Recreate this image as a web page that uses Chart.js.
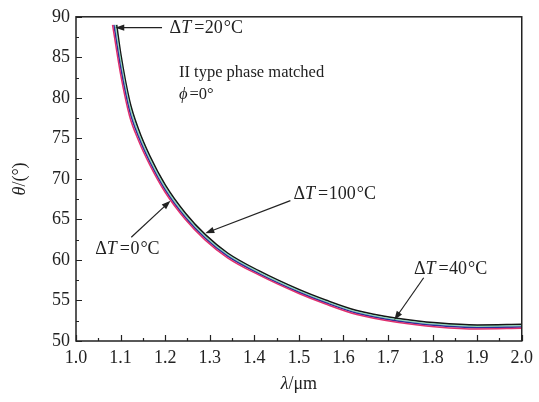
<!DOCTYPE html>
<html>
<head>
    <meta charset="utf-8">
    <script src="https://cdn.jsdelivr.net/npm/chart.js@4.4.0/dist/chart.umd.min.js"></script>
    <style>
        html, body { margin: 0; padding: 0; background: #fff; }
        #wrap { width: 539px; height: 402px; }
    </style>
</head>
<body>
    <div id="wrap"><canvas id="phaseChart"></canvas></div>

    <script>
        // wavelength grid (um) shared by the four curves
        const lambda = [1.10, 1.12, 1.14, 1.165, 1.20, 1.245, 1.29, 1.34, 1.41, 1.50, 1.56, 1.63, 1.72, 1.81, 1.90, 2.00];

        // phase matching angle theta (deg) for each temperature
        const theta0 = [82.93, 77.80, 74.77, 71.79, 68.35, 65.03, 62.45, 60.27, 58.15, 55.86, 54.56, 53.26, 52.31, 51.74, 51.48, 51.56];
        const theta20 = [83.78, 78.42, 75.22, 72.15, 68.65, 65.28, 62.67, 60.46, 58.32, 56.02, 54.72, 53.42, 52.47, 51.90, 51.64, 51.72];
        const theta40 = [84.63, 79.04, 75.67, 72.51, 68.95, 65.53, 62.89, 60.65, 58.49, 56.18, 54.88, 53.58, 52.63, 52.06, 51.80, 51.88];
        const theta100 = [85.48, 79.66, 76.12, 72.87, 69.25, 65.78, 63.11, 60.84, 58.66, 56.34, 55.04, 53.74, 52.79, 52.22, 51.96, 52.04];

        // where each curve starts at the top (lambda at theta = 89 deg)
        const startLambda = [1.082, 1.085, 1.088, 1.091];
        const startTheta = 89.0;

        const seriesNames = ['ΔT=0℃', 'ΔT=20℃', 'ΔT=40℃', 'ΔT=100℃'];
        const seriesTheta = [theta0, theta20, theta40, theta100];
        const seriesColors = ['#e0306e', '#2b2f9c', '#8fd8bc', '#151515'];

        const xTicks = [1.0, 1.1, 1.2, 1.3, 1.4, 1.5, 1.6, 1.7, 1.8, 1.9, 2.0];
        const yTicks = [50, 55, 60, 65, 70, 75, 80, 85, 90];

        // annotations: text parts [text, style, extra gap after], anchor, arrow tail, arrow tip (data units)
        const dT = (v) => [['Δ', '', 0], ['T', 'italic ', 3], ['=', '', 0.5], [v, '', 1], ['°', '', 0], ['C', '', 0]];
        const notes = [
            { parts: dT('20'), size: 18, at: [1.210, 88.55], tail: [1.193, 88.66], tip: [1.088, 88.66] },
            { parts: [['II type phase matched', '', 0]], size: 16.5, at: [1.231, 83.05] },
            { parts: [['ϕ', 'italic ', 2], ['=0°', '', 0]], size: 16.5, at: [1.231, 80.45] },
            { parts: dT('100'), size: 18, at: [1.488, 68.05], tail: [1.481, 67.32], tip: [1.290, 63.30] },
            { parts: dT('0'), size: 18, at: [1.043, 61.34], tail: [1.124, 62.80], tip: [1.212, 67.30] },
            { parts: dT('40'), size: 18, at: [1.758, 58.90], tail: [1.780, 57.80], tip: [1.714, 52.60] }
        ];

        const FONT = '"Liberation Serif", "Times New Roman", serif';

        const datasets = seriesTheta.map((th, i) => ({
            label: seriesNames[i],
            data: [{ x: startLambda[i], y: startTheta }].concat(lambda.map((l, k) => ({ x: l, y: th[k] }))),
            borderColor: seriesColors[i],
            borderWidth: i === 3 ? 1.8 : 1.5,
            pointRadius: 0,
            fill: false,
            cubicInterpolationMode: 'monotone'
        }));

        function drawParts(ctx, parts, x, y, size) {
            let cx = x;
            parts.forEach(p => {
                ctx.font = p[1] + size + 'px ' + FONT;
                ctx.fillText(p[0], cx, y);
                cx += ctx.measureText(p[0]).width + (p[2] || 0);
            });
        }

        function arrow(ctx, x1, y1, x2, y2) {
            const a = Math.atan2(y2 - y1, x2 - x1);
            const len = 9, w = 3.2;
            ctx.beginPath();
            ctx.moveTo(x1, y1);
            ctx.lineTo(x2 - Math.cos(a) * len * 0.7, y2 - Math.sin(a) * len * 0.7);
            ctx.stroke();
            ctx.beginPath();
            ctx.moveTo(x2, y2);
            ctx.lineTo(x2 - Math.cos(a) * len - Math.sin(a) * w, y2 - Math.sin(a) * len + Math.cos(a) * w);
            ctx.lineTo(x2 - Math.cos(a) * len + Math.sin(a) * w, y2 - Math.sin(a) * len - Math.cos(a) * w);
            ctx.closePath();
            ctx.fill();
        }

        const framePlugin = {
            id: 'frame',
            afterDraw(chart) {
                const ctx = chart.ctx;
                const area = chart.chartArea;
                const xs = chart.scales.x, ys = chart.scales.y;
                ctx.save();
                ctx.strokeStyle = '#222';
                ctx.fillStyle = '#222';

                // frame
                ctx.lineWidth = 1.5;
                ctx.strokeRect(area.left, area.top, area.right - area.left, area.bottom - area.top);

                // inward ticks, major + minor
                ctx.lineWidth = 1.2;
                ctx.beginPath();
                for (let v = 1.0; v <= 2.0001; v += 0.05) {
                    const px = Math.round(xs.getPixelForValue(v)) + 0.5;
                    const major = Math.abs(v * 10 - Math.round(v * 10)) < 0.01;
                    ctx.moveTo(px, area.bottom);
                    ctx.lineTo(px, area.bottom - (major ? 6 : 3));
                }
                for (let v = 50; v <= 90.001; v += 2.5) {
                    const py = Math.round(ys.getPixelForValue(v)) + 0.5;
                    const major = v % 5 === 0;
                    ctx.moveTo(area.left, py);
                    ctx.lineTo(area.left + (major ? 6 : 3), py);
                }
                ctx.stroke();

                // annotations
                ctx.textBaseline = 'middle';
                ctx.textAlign = 'left';
                ctx.lineWidth = 1.2;
                notes.forEach(n => {
                    drawParts(ctx, n.parts, xs.getPixelForValue(n.at[0]), ys.getPixelForValue(n.at[1]), n.size);
                    if (n.tail) {
                        arrow(ctx, xs.getPixelForValue(n.tail[0]), ys.getPixelForValue(n.tail[1]),
                            xs.getPixelForValue(n.tip[0]), ys.getPixelForValue(n.tip[1]));
                    }
                });

                // axis titles
                ctx.textBaseline = 'middle';
                const cx = (area.left + area.right) / 2;
                ctx.font = 'italic 18px ' + FONT;
                const w1 = ctx.measureText('λ').width;
                ctx.font = '18px ' + FONT;
                const w2 = ctx.measureText('/μm').width;
                drawParts(ctx, [['λ', 'italic '], ['/μm', '']], cx - (w1 + w2) / 2, 384, 18);

                ctx.translate(20, (area.top + area.bottom) / 2);
                ctx.rotate(-Math.PI / 2);
                ctx.font = 'italic 18px ' + FONT;
                const w3 = ctx.measureText('θ').width;
                ctx.font = '18px ' + FONT;
                const w4 = ctx.measureText('/(°)').width;
                drawParts(ctx, [['θ', 'italic '], ['/(°)', '']], -(w3 + w4) / 2, 0, 18);
                ctx.restore();
            }
        };

        const phaseChart = new Chart(document.getElementById('phaseChart'), {
            type: 'line',
            data: { datasets: datasets },
            options: {
                responsive: true,
                maintainAspectRatio: false,
                animation: false,
                layout: { padding: { top: 13, right: 12, left: 0, bottom: 0 } },
                plugins: {
                    legend: { display: false },
                    tooltip: { enabled: false }
                },
                scales: {
                    x: {
                        type: 'linear',
                        min: 1.0,
                        max: 2.0,
                        afterBuildTicks: s => { s.ticks = xTicks.map(v => ({ value: v })); },
                        afterFit: s => { s.height = 61; },
                        grid: { display: false, drawTicks: false },
                        border: { display: false },
                        ticks: {
                            padding: 6,
                            color: '#222',
                            maxRotation: 0,
                            font: { family: FONT, size: 18 },
                            callback: v => v.toFixed(1)
                        }
                    },
                    y: {
                        min: 50,
                        max: 90,
                        afterBuildTicks: s => { s.ticks = yTicks.map(v => ({ value: v })); },
                        afterFit: s => { s.width = 76; },
                        grid: { display: false, drawTicks: false },
                        border: { display: false },
                        ticks: {
                            padding: 6,
                            color: '#222',
                            font: { family: FONT, size: 18 },
                            callback: v => String(v)
                        }
                    }
                }
            },
            plugins: [framePlugin]
        });
    </script>
</body>
</html>
